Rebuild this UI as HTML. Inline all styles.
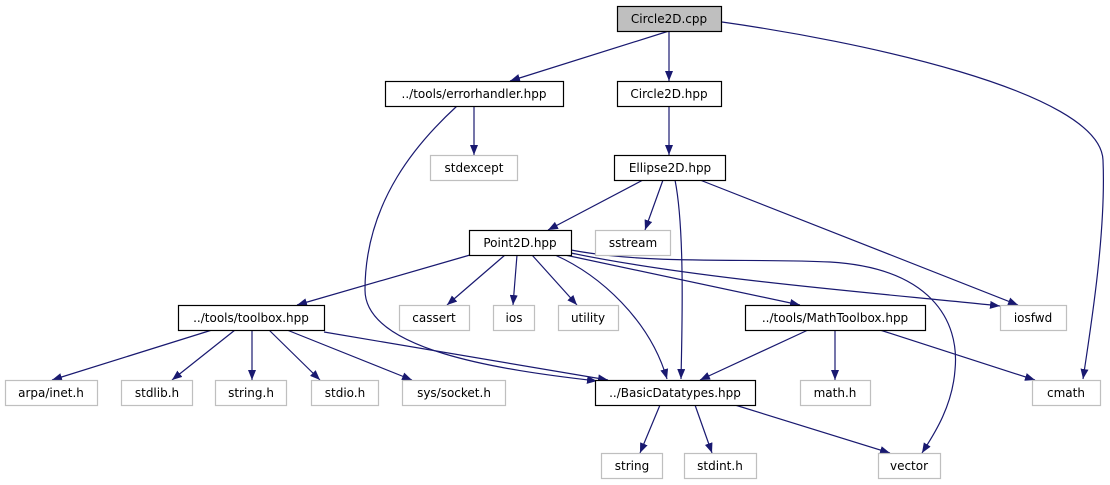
<!DOCTYPE html>
<html><head><meta charset="utf-8"><style>
body{margin:0;background:#fff;}
svg{display:block;font-family:"DejaVu Sans","Liberation Sans",sans-serif;font-size:12px;}
.b{fill:#fff;stroke:#000;stroke-width:1.2}
.g{fill:#fff;stroke:#bfbfbf;stroke-width:1.2}
.e{fill:none;stroke:#191970;stroke-width:1.2;marker-end:url(#a)}
text{text-anchor:middle;fill:#000}
</style></head><body>
<svg width="1110" height="485" viewBox="0 0 1110 485">
<defs><marker id="a" viewBox="0 0 10 8" refX="10" refY="4" markerWidth="10" markerHeight="8" markerUnits="userSpaceOnUse" orient="auto"><path d="M0,0 L10,4 L0,8 z" fill="#191970"/></marker></defs>
<path class="e" d="M669,31 L510,81"/>
<path class="e" d="M669,31 L669,81"/>
<path class="e" d="M722,22 C850,40 1100,90 1103,160 C1106,230 1092,320 1083,379"/>
<path class="e" d="M457,106 C420,140 365,200 365,290 C365,350 500,370 597,381"/>
<path class="e" d="M474,106 L474,155"/>
<path class="e" d="M669,106 L669,155"/>
<path class="e" d="M643,180 L548,230"/>
<path class="e" d="M663,180 L645,230"/>
<path class="e" d="M675,180 C685,230 682,330 681,379"/>
<path class="e" d="M700,180 L1018,305"/>
<path class="e" d="M470,255 L297,305"/>
<path class="e" d="M505,255 L447,305"/>
<path class="e" d="M517,255 L513,305"/>
<path class="e" d="M532,255 L577,305"/>
<path class="e" d="M555,255 C600,275 650,320 667,379"/>
<path class="e" d="M565,255 L800,305"/>
<path class="e" d="M571,253 C700,280 900,295 1000,306"/>
<path class="e" d="M571,250 C650,265 750,258 830,262 C930,268 960,320 955,370 C952,410 930,440 922,453"/>
<path class="e" d="M212,330 L52,380"/>
<path class="e" d="M235,330 L172,380"/>
<path class="e" d="M252,330 L252,380"/>
<path class="e" d="M269,330 L320,380"/>
<path class="e" d="M287,330 L412,380"/>
<path class="e" d="M324,332 L608,380"/>
<path class="e" d="M808,330 L700,380"/>
<path class="e" d="M835,330 L835,380"/>
<path class="e" d="M880,330 L1035,380"/>
<path class="e" d="M660,405 L640,453"/>
<path class="e" d="M695,405 L712,453"/>
<path class="e" d="M735,405 L890,453"/>

<rect x="617.5" y="6.5" width="104" height="25" fill="#bfbfbf" stroke="#000" stroke-width="1.2"/><text x="669" y="23">Circle2D.cpp</text>
<rect class="b" x="385.5" y="81.5" width="178" height="25"/><text x="474" y="98">../tools/errorhandler.hpp</text>
<rect class="b" x="617.5" y="81.5" width="104" height="25"/><text x="669" y="98">Circle2D.hpp</text>
<rect class="g" x="430.5" y="155.5" width="87" height="25"/><text x="474" y="172">stdexcept</text>
<rect class="b" x="614.5" y="155.5" width="111" height="25"/><text x="670" y="172">Ellipse2D.hpp</text>
<rect class="b" x="469.5" y="230.5" width="102" height="25"/><text x="520" y="247">Point2D.hpp</text>
<rect class="g" x="595.5" y="230.5" width="75" height="25"/><text x="633" y="247">sstream</text>
<rect class="b" x="178.5" y="305.5" width="146" height="25"/><text x="251" y="322">../tools/toolbox.hpp</text>
<rect class="g" x="399.5" y="305.5" width="70" height="25"/><text x="434" y="322">cassert</text>
<rect class="g" x="493.5" y="305.5" width="41" height="25"/><text x="514" y="322">ios</text>
<rect class="g" x="558.5" y="305.5" width="60" height="25"/><text x="588" y="322">utility</text>
<rect class="b" x="745.5" y="305.5" width="180" height="25"/><text x="835" y="322">../tools/MathToolbox.hpp</text>
<rect class="g" x="1000.5" y="305.5" width="66" height="25"/><text x="1033" y="322">iosfwd</text>
<rect class="g" x="5.5" y="380.5" width="92" height="25"/><text x="51" y="397">arpa/inet.h</text>
<rect class="g" x="121.5" y="380.5" width="71" height="25"/><text x="157" y="397">stdlib.h</text>
<rect class="g" x="215.5" y="380.5" width="71" height="25"/><text x="251" y="397">string.h</text>
<rect class="g" x="311.5" y="380.5" width="67" height="25"/><text x="345" y="397">stdio.h</text>
<rect class="g" x="402.5" y="380.5" width="103" height="25"/><text x="454" y="397">sys/socket.h</text>
<rect class="b" x="595.5" y="380.5" width="160" height="25"/><text x="675" y="397">../BasicDatatypes.hpp</text>
<rect class="g" x="800.5" y="380.5" width="70" height="25"/><text x="835" y="397">math.h</text>
<rect class="g" x="1032.5" y="380.5" width="68" height="25"/><text x="1066" y="397">cmath</text>
<rect class="g" x="601.5" y="453.5" width="61" height="25"/><text x="632" y="470">string</text>
<rect class="g" x="684.5" y="453.5" width="72" height="25"/><text x="720" y="470">stdint.h</text>
<rect class="g" x="878.5" y="453.5" width="62" height="25"/><text x="909" y="470">vector</text>
</svg>
</body></html>
